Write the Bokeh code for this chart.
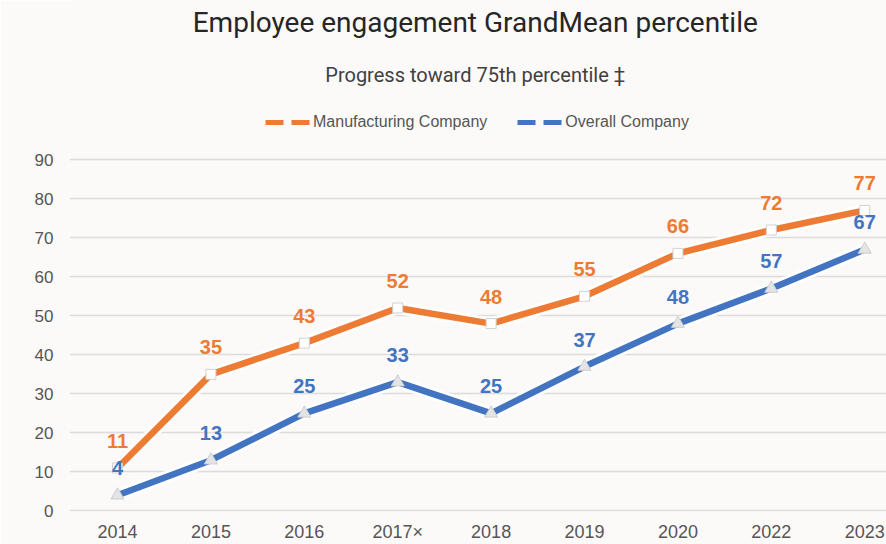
from bokeh.plotting import figure
from bokeh.models import Range1d, FixedTicker, ColumnDataSource, Legend, LegendItem, Label
from bokeh.embed import file_html
from bokeh.resources import INLINE
from bokeh.core.properties import value

years = ["2014", "2015", "2016", "2017\u00d7", "2018", "2019", "2020", "2022", "2023"]
manufacturing = [11, 35, 43, 52, 48, 55, 66, 72, 77]
overall = [4, 13, 25, 33, 25, 37, 48, 57, 67]
y_ticks = [0, 10, 20, 30, 40, 50, 60, 70, 80, 90]

title_text = "Employee engagement GrandMean percentile"
subtitle_text = "Progress toward 75th percentile \u2021"
series_names = ["Manufacturing Company", "Overall Company"]

ORANGE = "#EE7B33"
BLUE = "#4274C2"
BG = "#fcfaf9"

idx = list(range(len(years)))

p = figure(width=886, height=544, output_backend="svg", toolbar_location=None,
           x_range=Range1d(-0.514, 8.233), y_range=Range1d(-0.15, 130.8),
           min_border_left=69, min_border_right=0, min_border_top=0, min_border_bottom=30)
p.background_fill_color = BG
p.border_fill_color = BG
p.outline_line_color = None

# axes
p.xaxis.ticker = FixedTicker(ticks=idx)
p.xaxis.major_label_overrides = {i: y for i, y in zip(idx, years)}
p.yaxis.ticker = FixedTicker(ticks=y_ticks)
for ax in (p.xaxis[0], p.yaxis[0]):
    ax.axis_line_color = None
    ax.major_tick_line_color = None
    ax.minor_tick_line_color = None
    ax.major_tick_out = 0
    ax.major_tick_in = 0
    ax.major_label_text_font = "Liberation Sans"
    ax.major_label_text_color = "#555555"
p.xaxis.major_label_text_font_size = "18px"
p.yaxis.major_label_text_font_size = "17px"
p.xaxis.major_label_standoff = 10
p.yaxis.major_label_standoff = 16
p.xgrid.grid_line_color = None
p.ygrid.ticker = FixedTicker(ticks=y_ticks)
p.ygrid.grid_line_color = "#dcdcdc"
p.ygrid.grid_line_width = 1.5

src = ColumnDataSource(dict(x=idx, m=manufacturing, o=overall,
                            ml=[str(v) for v in manufacturing],
                            ol=[str(v) for v in overall]))

# white halo + lines
p.line("x", "o", source=src, line_color="white", line_width=12, line_join="round")
p.line("x", "o", source=src, line_color=BLUE, line_width=6.5, line_join="round")
p.scatter("x", "o", source=src, marker="triangle", size=13, fill_color="#e4e4e4",
          line_color="#cfcfcf", line_width=1)
p.line("x", "m", source=src, line_color="white", line_width=12, line_join="round")
p.line("x", "m", source=src, line_color=ORANGE, line_width=6.5, line_join="round")
p.scatter("x", "m", source=src, marker="square", size=10, fill_color="white",
          line_color="#d0d0d0", line_width=1)

# data labels
p.text("x", "m", text="ml", source=src, text_color=ORANGE, text_font=value("Liberation Sans"),
       text_font_style="bold", text_font_size="20px", text_align="center",
       text_baseline="middle", y_offset=-27)
p.text("x", "o", text="ol", source=src, text_color=BLUE, text_font=value("Liberation Sans"),
       text_font_style="bold", text_font_size="20px", text_align="center",
       text_baseline="middle", y_offset=-27)

# titles
p.add_layout(Label(x=3.83, y=125.2, text=title_text, text_font="Roboto", text_font_size="28px",
                   text_color="#262626", text_align="center", text_baseline="middle"))
p.add_layout(Label(x=3.83, y=111.7, text=subtitle_text, text_font="Roboto", text_font_size="20px",
                   text_color="#404040", text_align="center", text_baseline="middle"))

# legend (dashed key) - dummy renderers drawn outside the visible range
lm = p.line([-10, -9], [-10, -10], line_color=ORANGE, line_width=5, line_dash="18 8")
lo = p.line([-10, -9], [-10, -10], line_color=BLUE, line_width=5, line_dash="18 8")
legend = Legend(items=[LegendItem(label=series_names[0], renderers=[lm]),
                       LegendItem(label=series_names[1], renderers=[lo])],
                orientation="horizontal", location=(196, 380),
                background_fill_alpha=0, border_line_color=None,
                label_text_font="Liberation Sans", label_text_font_size="16px",
                label_text_color="#555555", glyph_width=46, glyph_height=16,
                label_standoff=2, spacing=30, padding=2, margin=0)
p.add_layout(legend)

open("out.html", "w").write(file_html(p, INLINE))
